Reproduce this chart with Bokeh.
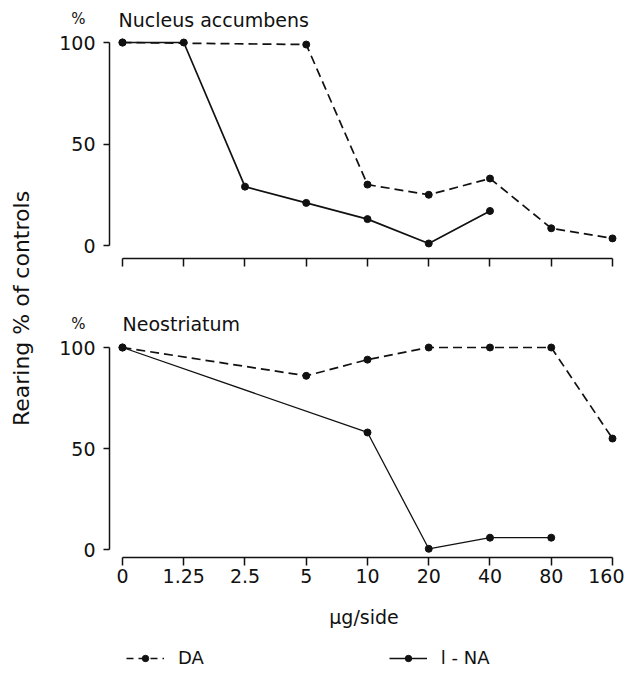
import math
from bokeh.plotting import figure
from bokeh.models import Label, Legend, LegendItem, FixedTicker, Range1d, LinearAxis
from bokeh.layouts import row, column
from bokeh.embed import file_html
from bokeh.resources import INLINE

# ---- data -------------------------------------------------------------
doses = ["0", "1.25", "2.5", "5", "10", "20", "40", "80", "160"]

acc_da_doses = ["0", "5", "10", "20", "40", "80", "160"]
acc_da_vals = [100, 99, 30, 25, 33, 8.5, 3.5]
acc_na_doses = ["0", "1.25", "2.5", "5", "10", "20", "40"]
acc_na_vals = [100, 100, 29, 21, 13, 1, 17]

neo_da_doses = ["0", "5", "10", "20", "40", "80", "160"]
neo_da_vals = [100, 86, 94, 100, 100, 100, 55]
neo_na_doses = ["0", "10", "20", "40", "80"]
neo_na_vals = [100, 58, 0.5, 6, 6]

y_ticks = [0, 50, 100]
panel_titles = ["Nucleus accumbens", "Neostriatum"]
series_names = ["DA", "l - NA"]
x_title = "μg/side"
y_title = "Rearing % of controls"
unit = "%"

FONT = "DejaVu Sans"
INK = "#111111"
DASH = "9 5"
PW = 576               # width of the panel column
FRAME_X = (109, 618)   # page x of the plot frames (shared by the column)


def pos(ds):
    return [doses.index(d) for d in ds]


def blank(width, height, xr, yr, border_top=0):
    f = figure(width=width, height=height, x_range=Range1d(*xr), y_range=Range1d(*yr),
               output_backend="svg", toolbar_location=None,
               x_axis_type=None, y_axis_type=None,
               min_border=0, min_border_left=0, min_border_right=0,
               min_border_top=border_top, min_border_bottom=0)
    f.outline_line_color = None
    f.xgrid.visible = False
    f.ygrid.visible = False
    return f


def make_panel(height, border_top, border_bottom, yr, show_labels):
    p = figure(width=PW, height=height,
               x_range=Range1d(-0.212, 8.098), y_range=Range1d(*yr),
               output_backend="svg", toolbar_location=None,
               min_border_left=61, min_border_right=6,
               min_border_top=border_top, min_border_bottom=border_bottom)
    p.outline_line_color = None
    p.xgrid.visible = False
    p.ygrid.visible = False

    xa = p.xaxis[0]
    xa.ticker = FixedTicker(ticks=list(range(len(doses))))
    xa.bounds = (0, len(doses) - 1)
    xa.axis_line_color = INK
    xa.axis_line_width = 1.5
    xa.major_tick_line_color = INK
    xa.major_tick_line_width = 1.5
    xa.major_tick_out = 8
    xa.major_tick_in = 0
    xa.minor_tick_line_color = None
    xa.major_label_text_font = FONT
    xa.major_label_text_color = INK
    if show_labels:
        xa.major_label_overrides = {i: d for i, d in enumerate(doses)}
        xa.major_label_text_font_size = "19px"
        xa.major_label_standoff = 3
    else:
        xa.major_label_overrides = {i: "" for i in range(len(doses))}
        xa.major_label_text_font_size = "1px"
        xa.major_label_standoff = 0

    ya = p.yaxis[0]
    ya.ticker = FixedTicker(ticks=y_ticks)
    ya.bounds = (0, 100)
    ya.axis_line_color = INK
    ya.axis_line_width = 1.5
    ya.major_tick_line_color = INK
    ya.major_tick_line_width = 1.5
    ya.major_tick_out = 6
    ya.major_tick_in = 0
    ya.minor_tick_line_color = None
    ya.major_label_text_font = FONT
    ya.major_label_text_font_size = "19px"
    ya.major_label_text_color = INK
    ya.major_label_standoff = 8
    return p


def add_series(p, da_d, da_v, na_d, na_v, na_width=1.7):
    p.line(pos(da_d), da_v, line_color=INK, line_width=1.7, line_dash=DASH)
    p.scatter(pos(da_d), da_v, size=7, color=INK)
    p.line(pos(na_d), na_v, line_color=INK, line_width=na_width)
    p.scatter(pos(na_d), na_v, size=7, color=INK)


def header(height, border_top, name, name_x, name_mid):
    # the "%" sits at the vertical centre of this strip's frame
    h = blank(PW, height, FRAME_X, (0, height - border_top), border_top)
    ax = LinearAxis(ticker=FixedTicker(ticks=[]),
                    axis_line_color=None, major_tick_line_color=None,
                    minor_tick_line_color=None, major_label_text_font_size="1px",
                    axis_label=unit, axis_label_orientation="horizontal",
                    axis_label_text_font=FONT, axis_label_text_font_size="15px",
                    axis_label_text_font_style="normal", axis_label_text_color=INK,
                    axis_label_standoff=24)
    h.add_layout(ax, "left")
    h.add_layout(Label(x=name_x, y=name_mid, text=name, text_font=FONT,
                       text_font_size="19px", text_align="left",
                       text_baseline="middle", text_color=INK))
    return h


# ---- top panel --------------------------------------------------------
H1 = 30
hdr1 = header(H1, 6, panel_titles[0], 118, 11)      # frame: page y 6..30
top = make_panel(250, 6, 22, (-6.40, 102.96), False)
add_series(top, acc_da_doses, acc_da_vals, acc_na_doses, acc_na_vals)

# ---- bottom panel -----------------------------------------------------
H2 = 54
hdr2 = header(H2, 32, panel_titles[1], 122, 11)     # frame: page y 312..334
bot = make_panel(300, 6, 77, (-3.8, 103.46), True)
add_series(bot, neo_da_doses, neo_da_vals, neo_na_doses, neo_na_vals, 1.3)
bot.xaxis.axis_label = x_title
bot.xaxis.axis_label_text_font = FONT
bot.xaxis.axis_label_text_font_size = "19px"
bot.xaxis.axis_label_text_font_style = "normal"
bot.xaxis.axis_label_text_color = INK
bot.xaxis.axis_label_standoff = 20

# ---- legend strip (its renderers lie outside the strip's view) -------
leg = blank(PW, 34, (-20, -19), (0, 1))
l1 = leg.line(pos(neo_da_doses), neo_da_vals, line_color=INK, line_width=1.5, line_dash="7 5")
s1 = leg.scatter(pos(neo_da_doses), neo_da_vals, size=6, color=INK)
l2 = leg.line(pos(neo_na_doses), neo_na_vals, line_color=INK, line_width=1.5)
s2 = leg.scatter(pos(neo_na_doses), neo_na_vals, size=6, color=INK)
legend = Legend(items=[LegendItem(label=series_names[0], renderers=[l1, s1]),
                       LegendItem(label=series_names[1], renderers=[l2, s2])],
                orientation="horizontal", location=(17, 0),
                spacing=185, padding=0, margin=0,
                glyph_width=38, glyph_height=16, label_standoff=14,
                label_text_font=FONT, label_text_font_size="18px",
                label_text_color=INK, border_line_color=None,
                background_fill_alpha=0)
leg.add_layout(legend)

# ---- y-axis title column ---------------------------------------------
TOTAL_H = H1 + 250 + H2 + 300 + 34
lab = blank(48, TOTAL_H, (0, 48), (0, TOTAL_H))
lab.add_layout(Label(x=21, y=TOTAL_H - 308, text=y_title, angle=math.pi / 2,
                     text_font=FONT, text_font_size="22px",
                     text_align="center", text_baseline="middle",
                     text_color=INK))

layout = row(lab, column(hdr1, top, hdr2, bot, leg))

with open("out.html", "w") as f:
    f.write(file_html(layout, INLINE))
